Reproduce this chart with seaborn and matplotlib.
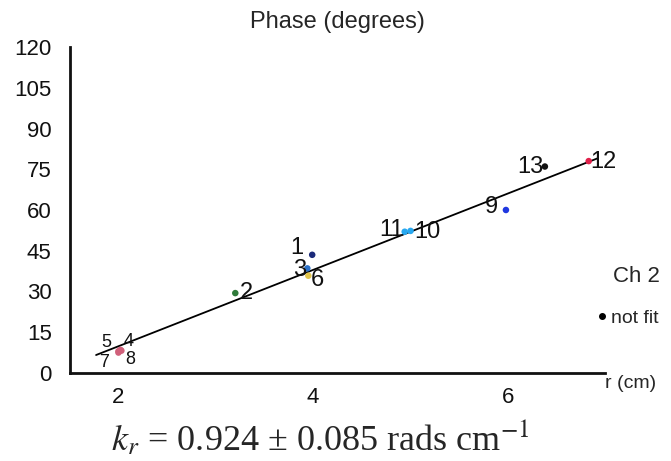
import numpy as np
import pandas as pd
import matplotlib
matplotlib.use('Agg')
import matplotlib.pyplot as plt
from matplotlib.lines import Line2D
import seaborn as sns

# ── Data ──────────────────────────────────────────────────────────────────────
sensor   = ['1', '2', '3', '4', '5', '6', '7', '8', '9', '10', '11', '12', '13']
r_cm     = [3.99, 3.20, 3.94, 2.02, 2.00, 3.95, 2.00, 2.03, 5.98, 5.00, 4.94, 6.83, 6.38]
phase    = [43.5, 29.4, 38.5, 8.5, 8.0, 35.8, 7.5, 8.2, 60.0, 52.3, 52.0, 78.0, 76.0]
colours  = ['#1b2a7a', '#2f7a3a', '#2a70c8', '#d0607a', '#d0607a', '#e2c54a', '#d0607a',
            '#d0607a', '#2038e0', '#28a8f0', '#28a8f0', '#e0204a', '#111111']

# fitted line (end points)
fit_r     = [1.77, 6.92]
fit_phase = [6.6, 79.0]

y_ticks = [0, 15, 30, 45, 60, 75, 90, 105, 120]
x_ticks = [2, 4, 6]

# label offsets (points) and alignment per sensor
label_pos = {
    '1': (-6, 5, 'right'), '2': (3, 0, 'left'), '3': (-1, -1, 'right'),
    '4': (2, 6, 'left'), '5': (-5, 6, 'right'), '6': (2, -3, 'left'),
    '7': (-7, -7, 'right'), '8': (3, -6, 'left'), '9': (-6, 2, 'right'),
    '10': (3, -1, 'left'), '11': (-1, 1, 'right'), '12': (1, -1, 'left'),
    '13': (-1, 0, 'right'),
}

df = pd.DataFrame({'sensor': sensor, 'r': r_cm, 'phase': phase})

# ── Figure ────────────────────────────────────────────────────────────────────
sns.set_style('white')
plt.rcParams['font.family'] = ['Liberation Sans', 'DejaVu Sans']
plt.rcParams['mathtext.fontset'] = 'stix'

fig = plt.figure(figsize=(6.71, 4.61), dpi=100)
ax = fig.add_axes([0.104, 0.191, 0.798, 0.707])

sns.lineplot(x=fit_r, y=fit_phase, color='black', lw=1.3, ax=ax)
sns.scatterplot(data=df, x='r', y='phase', hue='sensor',
                palette=dict(zip(sensor, colours)), s=22, edgecolor='none',
                legend=False, ax=ax, zorder=3)

for s, x, y in zip(sensor, r_cm, phase):
    dx, dy, ha = label_pos[s]
    size = 13 if s in ('4', '5', '7', '8') else 17
    ax.annotate(s, (x, y), xytext=(dx, dy), textcoords='offset points',
                ha=ha, va='center', fontsize=size, color='#111111')

ax.set_xlim(1.5, 7.0)
ax.set_ylim(0, 120)
ax.set_xticks(x_ticks)
ax.set_xticks([7.0], minor=True)
ax.set_yticks(y_ticks)
ax.tick_params(axis='both', which='both', direction='inout', length=8, width=1.3,
               labelsize=16, colors='#111111')
ax.tick_params(axis='y', pad=9)
ax.tick_params(axis='x', pad=6)
sns.despine(ax=ax)
for side in ['left', 'bottom']:
    ax.spines[side].set_linewidth(2)
    ax.spines[side].set_color('#111111')
ax.set_xlabel('')
ax.set_ylabel('')

ax.set_title('Phase (degrees)', fontsize=17, pad=14)
fig.text(0.902, 0.186, 'r (cm)', fontsize=14, ha='left', va='top')

# "Ch 2" key
fig.text(0.948, 0.401, 'Ch 2', fontsize=16, ha='center', va='center')
handle = Line2D([], [], marker='o', ls='', color='black', markersize=4)
fig.legend([handle], ['not fit'], loc='center left',
           bbox_to_anchor=(0.872, 0.31), frameon=False, fontsize=14,
           handlelength=0.5, handletextpad=0.25, borderpad=0.1)

fig.text(0.478, 0.05, r'$k_r$ = 0.924 ± 0.085 rads cm$^{-1}$',
         fontsize=26, ha='center', va='center', family=['Liberation Serif', 'DejaVu Serif'])

fig.savefig('out.png', dpi=100)
